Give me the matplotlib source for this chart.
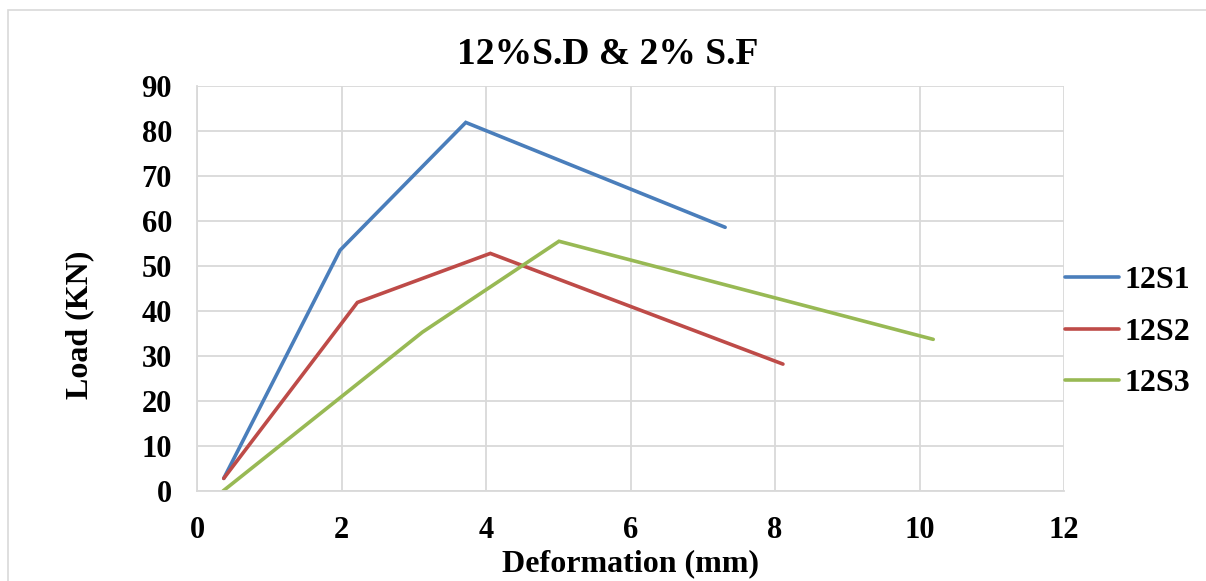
import matplotlib
matplotlib.use('Agg')
import matplotlib.pyplot as plt
from matplotlib.patches import Rectangle

plt.rcParams['font.family'] = ['Liberation Serif', 'DejaVu Serif']
plt.rcParams['font.weight'] = 'bold'

# load-deformation curves (mm, kN)
s1_def = [0.37, 1.98, 3.72, 7.31]
s1_load = [2.8, 53.5, 81.9, 58.6]

s2_def = [0.37, 2.22, 4.06, 8.11]
s2_load = [2.8, 41.9, 52.8, 28.2]

s3_def = [0.36, 3.12, 5.01, 10.19]
s3_load = [0.0, 35.3, 55.5, 33.7]

names = ['12S1', '12S2', '12S3']
colors = ['#4a7ebb', '#be4b48', '#98b954']

W, H = 1206, 581
fig = plt.figure(figsize=(W / 100, H / 100), dpi=100)
ax = fig.add_axes([197 / W, 1 - 491 / H, (1064 - 197) / W, (491 - 86) / H])

# thin frame round the whole chart
fig.patches.append(Rectangle((8 / W, -0.01), 1.02, 1 - 10 / H + 0.01,
                             transform=fig.transFigure, fill=False,
                             edgecolor='#d9d9d9', linewidth=1.2))

for xs, ys, name, c in zip([s1_def, s2_def, s3_def],
                           [s1_load, s2_load, s3_load], names, colors):
    ax.plot(xs, ys, color=c, linewidth=2.6, label=name,
            solid_capstyle='round', solid_joinstyle='miter')

ax.set_xlim(0, 12)
ax.set_ylim(0, 90)
ax.set_xticks(range(0, 13, 2))
ax.set_yticks(range(0, 91, 10))
ax.grid(True, color='#d9d9d9', linewidth=1.3)
ax.set_axisbelow(True)
for s in ['top', 'right']:
    ax.spines[s].set_visible(False)
for s in ['left', 'bottom']:
    ax.spines[s].set_color('#d9d9d9')
    ax.spines[s].set_linewidth(1.3)
ax.tick_params(length=0, labelsize=22)
ax.tick_params(axis='x', pad=18)
ax.tick_params(axis='y', pad=18)
for lab in ax.get_xticklabels() + ax.get_yticklabels():
    lab.set_fontweight('bold')

fig.text(630 / W, 1 - 564 / H, 'Deformation (mm)', ha='center', va='center',
         fontsize=23, fontweight='bold')
fig.text(80 / W, 1 - 325 / H, 'Load (KN)', ha='center', va='center',
         rotation=90, fontsize=23, fontweight='bold')
fig.text(608 / W, 1 - 55 / H, '12%S.D & 2% S.F', ha='center', va='center',
         fontsize=27, fontweight='bold')

fig.legend(loc='center left', bbox_to_anchor=(1065 / W, 1 - 332 / H),
           frameon=False, fontsize=23, handlelength=1.7, handletextpad=0.15,
           labelspacing=0.7, borderaxespad=0, borderpad=0)

fig.savefig('out.png', dpi=100)
